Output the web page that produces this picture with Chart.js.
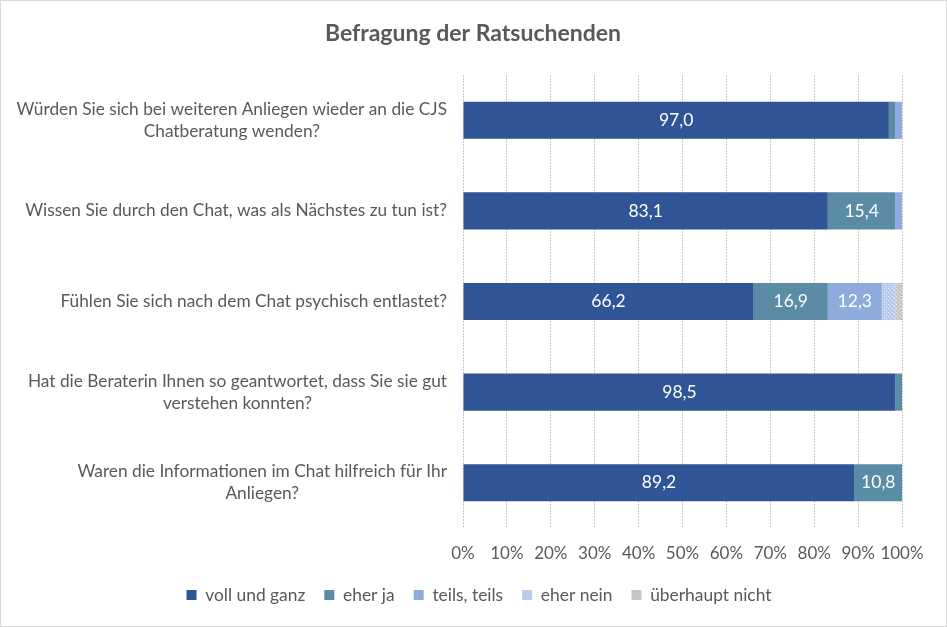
<!DOCTYPE html>
<html>
<head>
<meta charset="utf-8">
<script src="https://cdn.jsdelivr.net/npm/chart.js@4"></script>
<style>
  html, body { margin: 0; padding: 0; background: #fff; }
  #wrap { position: relative; width: 947px; height: 627px; }
</style>
</head>
<body>
<div id="wrap"><canvas id="c" width="947" height="627"></canvas></div>
<script>
const categories = [
  ["Würden Sie sich bei weiteren Anliegen wieder an die CJS", "Chatberatung wenden?"],
  ["Wissen Sie durch den Chat, was als Nächstes zu tun ist?"],
  ["Fühlen Sie sich nach dem Chat psychisch entlastet?"],
  ["Hat die Beraterin Ihnen so geantwortet, dass Sie sie gut", "verstehen konnten?"],
  ["Waren die Informationen im Chat hilfreich für Ihr", "Anliegen?"]
];
const seriesNames = ["voll und ganz", "eher ja", "teils, teils", "eher nein", "überhaupt nicht"];
const vollUndGanz    = [97.0, 83.1, 66.2, 98.5, 89.2];
const eherJa         = [1.5, 15.4, 16.9, 1.5, 10.8];
const teilsTeils     = [1.5, 1.5, 12.3, 0, 0];
const eherNein       = [0, 0, 3.1, 0, 0];
const ueberhauptNicht= [0, 0, 1.5, 0, 0];
const xTicks = [0, 10, 20, 30, 40, 50, 60, 70, 80, 90, 100];

const FONT = "Lato, 'Open Sans', sans-serif";
const TXT = "#595959";

function makePattern(bg, dot) {
  const p = document.createElement('canvas');
  p.width = 4; p.height = 4;
  const g = p.getContext('2d');
  g.fillStyle = bg; g.fillRect(0, 0, 4, 4);
  g.fillStyle = dot; g.fillRect(0, 0, 1, 1); g.fillRect(2, 2, 1, 1);
  return document.getElementById('c').getContext('2d').createPattern(p, 'repeat');
}
const colors = [
  "#2F5597",
  "#5B8CA6",
  "#8FAADC",
  makePattern("#B9CAEA", "#E6EDF8"),
  makePattern("#C6C6C6", "#E8E8E8")
];
const legendColors = ["#2F5597", "#5B8CA6", "#8FAADC", "#B9CAEA", "#C6C6C6"];
const seriesData = [vollUndGanz, eherJa, teilsTeils, eherNein, ueberhauptNicht];

const borderPlugin = {
  id: 'outerBorder',
  beforeDraw(chart) {
    const ctx = chart.ctx;
    ctx.save();
    ctx.fillStyle = '#fff';
    ctx.fillRect(0, 0, chart.width, chart.height);
    ctx.strokeStyle = '#D9D9D9';
    ctx.lineWidth = 1;
    ctx.strokeRect(0.5, 0.5, chart.width - 1, chart.height - 1);
    ctx.restore();
  }
};

const boxShiftPlugin = {
  id: 'boxShift',
  afterLayout(chart) {
    if (chart.legend) {
      chart.legend.left += 28;
      chart.legend.right += 28;
    }
    if (chart.titleBlock) {
      chart.titleBlock.left += 22;
      chart.titleBlock.right += 22;
    }
  }
};

const yLabelPlugin = {
  id: 'yLabels',
  afterDraw(chart) {
    const ctx = chart.ctx;
    const ys = chart.scales.y;
    ctx.save();
    ctx.font = "17.3px " + FONT;
    ctx.fillStyle = TXT;
    ctx.textBaseline = 'middle';
    ctx.textAlign = 'center';
    const right = chart.chartArea.left - 16;
    const lh = 22;
    categories.forEach((lines, i) => {
      const yc = ys.getPixelForValue(i);
      const w = Math.max(...lines.map(l => ctx.measureText(l).width));
      const cx = right - w / 2;
      const y0 = yc - (lines.length - 1) * lh / 2;
      lines.forEach((l, k) => ctx.fillText(l, cx, y0 + k * lh));
    });
    ctx.restore();
  }
};

const valueLabelPlugin = {
  id: 'valueLabels',
  afterDatasetsDraw(chart) {
    const ctx = chart.ctx;
    ctx.save();
    ctx.font = "17.5px " + FONT;
    ctx.fillStyle = '#FFFFFF';
    ctx.textAlign = 'center';
    ctx.textBaseline = 'middle';
    chart.data.datasets.forEach((ds, di) => {
      const meta = chart.getDatasetMeta(di);
      meta.data.forEach((el, i) => {
        const v = ds.data[i];
        if (v >= 10) {
          const cx = (el.x + el.base) / 2;
          ctx.fillText(v.toFixed(1).replace('.', ','), cx, el.y);
        }
      });
    });
    ctx.restore();
  }
};

function build() {
  new Chart(document.getElementById('c'), {
    type: 'bar',
    data: {
      labels: categories.map(l => l.join(' ')),
      datasets: seriesNames.map((name, i) => ({
        label: name,
        data: seriesData[i],
        backgroundColor: colors[i],
        borderWidth: 0,
        categoryPercentage: 1,
        barPercentage: 0.41
      }))
    },
    options: {
      indexAxis: 'y',
      responsive: false,
      animation: false,
      devicePixelRatio: 1,
      layout: { padding: { left: 0, right: 45, top: 0, bottom: 13.3 } },
      scales: {
        x: {
          stacked: true,
          min: 0, max: 100,
          afterBuildTicks(s) { s.ticks = xTicks.map(v => ({ value: v })); },
          afterFit(s) { s.height = 39.3; },
          border: { display: false, dash: [2, 1] },
          grid: { color: '#C8C8C8', lineWidth: 1, drawTicks: false },
          ticks: {
            padding: 15,
            autoSkip: false,
            color: TXT,
            font: { family: FONT, size: 17 },
            maxRotation: 0,
            callback: v => v + '%'
          }
        },
        y: {
          stacked: true,
          afterFit(s) { s.width = 463; },
          border: { display: false },
          grid: { display: false },
          ticks: { display: false }
        }
      },
      plugins: {
        title: {
          display: true,
          text: 'Befragung der Ratsuchenden',
          color: TXT,
          font: { family: FONT, size: 23, weight: 'bold' },
          padding: { top: 20, bottom: 27.4 }
        },
        legend: {
          position: 'bottom',
          labels: {
            color: TXT,
            font: { family: FONT, size: 17.4 },
            boxWidth: 10,
            boxHeight: 10,
            padding: 19,
            generateLabels(chart) {
              return seriesNames.map((n, i) => ({
                text: n, fillStyle: legendColors[i], strokeStyle: legendColors[i],
                lineWidth: 0, hidden: false, datasetIndex: i, fontColor: TXT
              }));
            }
          }
        },
        tooltip: { enabled: false }
      }
    },
    plugins: [borderPlugin, boxShiftPlugin, yLabelPlugin, valueLabelPlugin]
  });
}
if (document.fonts && document.fonts.load) {
  Promise.all([
    document.fonts.load("17px Lato"),
    document.fonts.load("bold 23px Lato")
  ]).then(build, build);
} else {
  build();
}
</script>
</body>
</html>
